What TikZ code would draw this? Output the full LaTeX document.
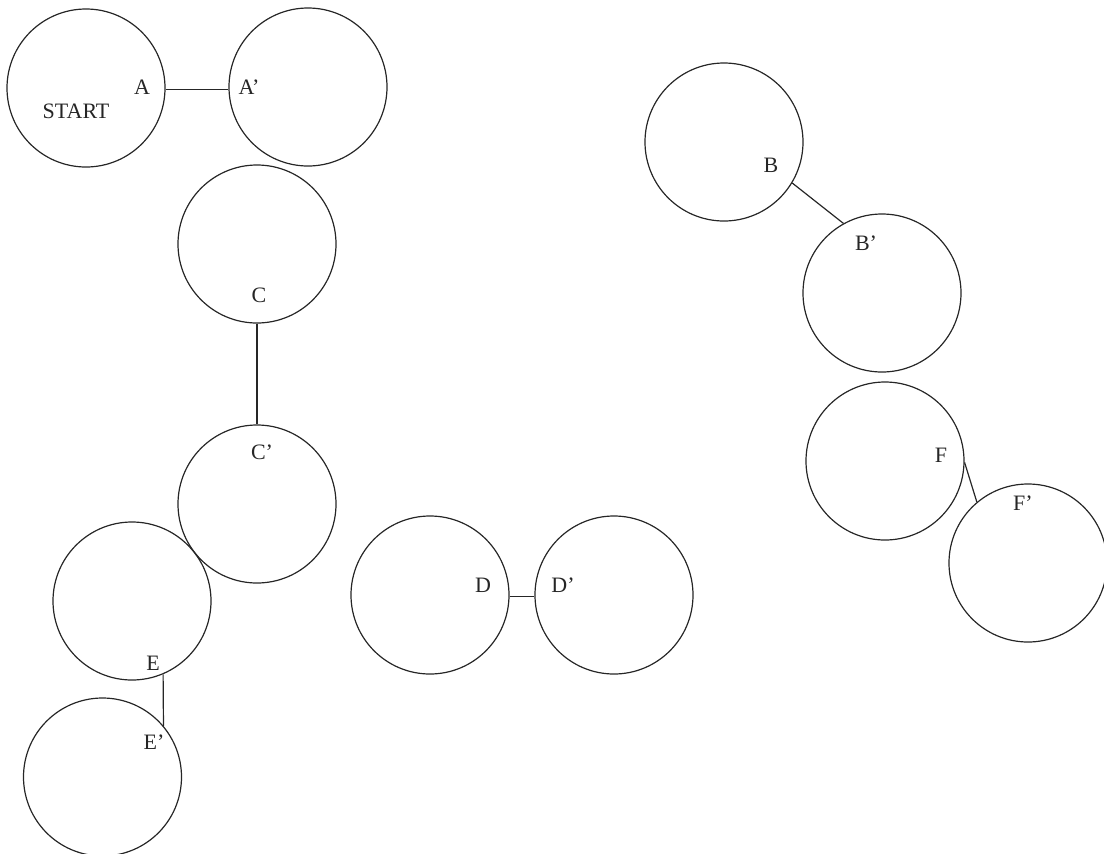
\documentclass[tikz,border=0pt]{standalone}
\usepackage{fontspec}
\setmainfont{Liberation Serif}
\begin{document}
\begin{tikzpicture}[x=0.5pt,y=-0.5pt,
  ring/.style={draw=black!85,circle,minimum size=79pt,inner sep=0pt,line width=0.6pt},
  lbl/.style={font=\fontsize{11}{13}\selectfont,text=black!85,inner sep=0pt},
  link/.style={draw=black!85,line width=0.6pt}]
\useasboundingbox (0,0) rectangle (1104,853);
% circles
\node[ring] (start) at (86,88) {};
\node[ring] (ap) at (308,87) {};
\node[ring] (c) at (257,244) {};
\node[ring] (cp) at (257,504) {};
\node[ring] (e) at (132,601) {};
\node[ring] (ep) at (102.5,777) {};
\node[ring] (d) at (430,595) {};
\node[ring] (dp) at (614,595) {};
\node[ring] (b) at (724,142) {};
\node[ring] (bp) at (882,293) {};
\node[ring] (f) at (885,461) {};
\node[ring] (fp) at (1028,563) {};
% labels
\node[lbl] (tStart) at (76,111) {START};
\node[lbl] (tA) at (142,87) {A};
\node[lbl] (tAp) at (249,87) {A’};
\node[lbl] (tB) at (771,165) {B};
\node[lbl] (tBp) at (866,243) {B’};
\node[lbl] (tC) at (259,295) {C};
\node[lbl] (tCp) at (262,452) {C’};
\node[lbl] (tD) at (483,585) {D};
\node[lbl] (tDp) at (563,585) {D’};
\node[lbl] (tE) at (153,663) {E};
\node[lbl] (tEp) at (154,742) {E’};
\node[lbl] (tF) at (941,455) {F};
\node[lbl] (tFp) at (1023,503) {F’};
% connectors
\draw[link] (start.-1) -- (start.-1 -| ap.west);
\draw[link] (b.-31) -- (bp.119);
\draw[link] (c.south) -- (cp.north);
\draw[link] (d.-1) -- (d.-1 -| dp.west);
\draw[link] (e.-67) -- (ep.40);
\draw[link] (f.-1.5) -- (fp.130);
\end{tikzpicture}
\end{document}
